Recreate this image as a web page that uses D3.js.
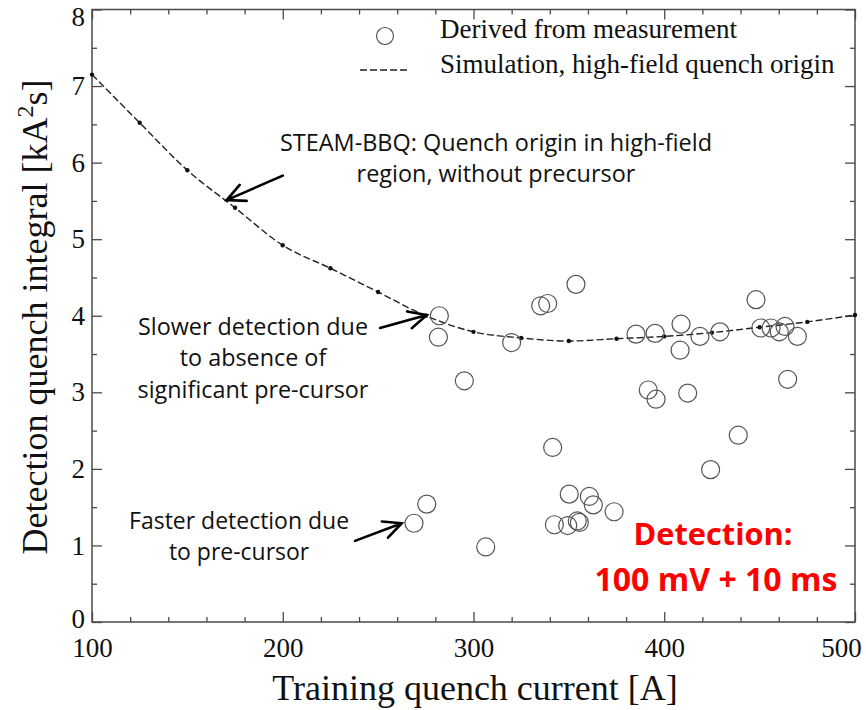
<!DOCTYPE html>
<html><head><meta charset="utf-8">
<script src="https://cdn.jsdelivr.net/npm/d3@7/dist/d3.min.js"></script>
<style>body{margin:0;background:#fff}svg{display:block}</style>
</head><body>
<svg id="c" width="866" height="710"></svg>
<script>
// ---- data ----
const simX = [100,125,150,175,200,225,250,275,300,325,350,375,400,425,450,475,500];
const simY = [7.15,6.52,5.90,5.41,4.92,4.62,4.31,4.00,3.79,3.71,3.67,3.70,3.73,3.78,3.85,3.92,4.01];
const measX = [282.1,281.6,295.2,320.0,335.2,338.9,353.7,341.5,385.2,395.2,408.8,408.3,391.6,395.7,412.3,418.7,429.2,448.1,450.6,456.0,460.3,463.3,469.8,464.7,438.8,424.3,275.5,268.8,306.4,350.2,360.7,362.8,373.7,342.4,349.4,354.4,355.5];
const measY = [4.00,3.72,3.15,3.65,4.13,4.16,4.41,2.28,3.76,3.77,3.89,3.55,3.03,2.91,2.99,3.73,3.79,4.21,3.84,3.84,3.79,3.86,3.73,3.17,2.44,1.99,1.54,1.29,0.98,1.67,1.64,1.53,1.44,1.27,1.26,1.32,1.30];
const xMajor = [100,200,300,400,500];
const yMajor = [0,1,2,3,4,5,6,7,8];
const legendLabels = ["Derived from measurement","Simulation, high-field quench origin"];

const svg = d3.select("#c");
const L=92, R=855, T=9.5, B=622;
const x = d3.scaleLinear().domain([100,500]).range([L,R]);
const y = d3.scaleLinear().domain([0,8]).range([B,T]);
const axisCol = "#4a4a4a";
const serif = "'Liberation Serif','Times New Roman',serif";

const xMinor = d3.range(100,501,20).filter(v=>v%100!==0);
const yMinor = d3.range(0,8.01,0.5).filter(v=>v%1!==0);

function styleAxis(g){
  g.select(".domain").remove();
  g.selectAll("line").attr("stroke",axisCol).attr("stroke-width",1.3);
  g.selectAll("text").attr("font-family",serif).attr("font-size",27).attr("fill","#111");
}
// bottom
svg.append("g").attr("transform",`translate(0,${B})`)
  .call(d3.axisBottom(x).tickValues(xMajor).tickSize(-10).tickPadding(16).tickFormat(d3.format("d")))
  .call(styleAxis)
  .call(g=>g.selectAll("text").filter(d=>d===500).attr("dx",-14));
svg.append("g").attr("transform",`translate(0,${B})`)
  .call(d3.axisBottom(x).tickValues(xMinor).tickSize(-5).tickFormat(""))
  .call(styleAxis);
// top
svg.append("g").attr("transform",`translate(0,${T})`)
  .call(d3.axisTop(x).tickValues(xMajor).tickSize(-10).tickFormat(""))
  .call(styleAxis);
svg.append("g").attr("transform",`translate(0,${T})`)
  .call(d3.axisTop(x).tickValues(xMinor).tickSize(-5).tickFormat(""))
  .call(styleAxis);
// left
svg.append("g").attr("transform",`translate(${L},0)`)
  .call(d3.axisLeft(y).tickValues(yMajor).tickSize(-10).tickPadding(7).tickFormat(d3.format("d")))
  .call(styleAxis)
  .call(g=>g.selectAll("text").filter(d=>d===8).attr("dy","0.6em"))
  .call(g=>g.selectAll("text").filter(d=>d===0).attr("dy","0.2em"));
svg.append("g").attr("transform",`translate(${L},0)`)
  .call(d3.axisLeft(y).tickValues(yMinor).tickSize(-5).tickFormat(""))
  .call(styleAxis);
// right
svg.append("g").attr("transform",`translate(${R},0)`)
  .call(d3.axisRight(y).tickValues(yMajor).tickSize(-10).tickFormat(""))
  .call(styleAxis);
svg.append("g").attr("transform",`translate(${R},0)`)
  .call(d3.axisRight(y).tickValues(yMinor).tickSize(-5).tickFormat(""))
  .call(styleAxis);
// frame
svg.append("rect").attr("x",L).attr("y",T).attr("width",R-L).attr("height",B-T)
  .attr("fill","none").attr("stroke",axisCol).attr("stroke-width",1.5);

// simulation line
const simData = simX.map((v,i)=>({x:v,y:simY[i]}));
svg.append("path").datum(simData)
  .attr("d",d3.line().x(d=>x(d.x)).y(d=>y(d.y)).curve(d3.curveMonotoneX))
  .attr("fill","none").attr("stroke","#222").attr("stroke-width",1.4).attr("stroke-dasharray","7,3");
svg.append("g").selectAll("circle").data(simData).join("circle")
  .attr("cx",d=>x(d.x)).attr("cy",d=>y(d.y)).attr("r",2.2).attr("fill","#111");

// measurement circles
const measData = measX.map((v,i)=>({x:v,y:measY[i]}));
svg.append("g").selectAll("circle").data(measData).join("circle")
  .attr("cx",d=>x(d.x)).attr("cy",d=>y(d.y)).attr("r",9)
  .attr("fill","none").attr("stroke","#555").attr("stroke-width",1.2);

// legend
svg.append("circle").attr("cx",385).attr("cy",36).attr("r",8.5).attr("fill","none").attr("stroke","#555").attr("stroke-width",1.2);
svg.append("line").attr("x1",360).attr("x2",410).attr("y1",70).attr("y2",70)
  .attr("stroke","#222").attr("stroke-width",1.4).attr("stroke-dasharray","7,3");
svg.append("text").attr("x",440).attr("y",38).text(legendLabels[0])
  .attr("font-family",serif).attr("font-size",27).attr("fill","#111");
svg.append("text").attr("x",440).attr("y",73).text(legendLabels[1])
  .attr("font-family",serif).attr("font-size",27).attr("fill","#111");

// axis titles
svg.append("text").attr("x",475).attr("y",700).attr("text-anchor","middle")
  .attr("font-family",serif).attr("font-size",36).attr("fill","#111").text("Training quench current [A]");
const yl = svg.append("text").attr("transform","translate(47,317) rotate(-90)").attr("text-anchor","middle")
  .attr("font-family",serif).attr("font-size",36).attr("fill","#111");
yl.append("tspan").text("Detection quench integral [kA");
yl.append("tspan").attr("font-size",24).attr("dy",-14).text("2");
yl.append("tspan").attr("dy",14).text("s]");

// annotations (font size fitted so the first line matches the reference width)
const sans = "'Open Sans',Lato,sans-serif";
function annot(lines, cx, baselines, targetW, opts={}){
  const nodes = lines.map((t,i)=> svg.append("text").attr("x",x(cx)).attr("y",y(baselines[i])).attr("text-anchor","middle")
      .attr("font-family",sans).attr("font-size",20)
      .attr("font-weight",opts.bold?"bold":"normal").attr("fill",opts.color||"#111").text(t));
  const w = nodes[0].node().getComputedTextLength();
  const fs = 20*targetW/w;
  nodes.forEach(n=>n.attr("font-size",fs.toFixed(2)));
}
annot(["STEAM-BBQ: Quench origin in high-field","region, without precursor"],311.8,[6.15,5.75],432);
annot(["Slower detection due","to absence of","significant pre-cursor"],184.4,[3.75,3.34,2.93],230);
annot(["Faster detection due","to pre-cursor"],177.1,[1.21,0.81],220);
annot(["Detection:"],425.6,[1.01],159,{bold:true,color:"#ff0000"});
annot(["100 mV + 10 ms"],427.1,[0.40],243,{bold:true,color:"#ff0000"});

function arrow(x0,y0,x1,y1){
  const px0=x(x0),py0=y(y0),px1=x(x1),py1=y(y1);
  const a=Math.atan2(py1-py0,px1-px0), len=20, sp=0.45;
  const w1=[px1-len*Math.cos(a-sp),py1-len*Math.sin(a-sp)];
  const w2=[px1-len*Math.cos(a+sp),py1-len*Math.sin(a+sp)];
  svg.append("path").attr("d",`M${px0},${py0}L${px1},${py1}M${w1[0]},${w1[1]}L${px1},${py1}L${w2[0]},${w2[1]}`)
    .attr("fill","none").attr("stroke","#000").attr("stroke-width",2.6).attr("stroke-linecap","round");
}
arrow(200,5.83,170.6,5.51);
arrow(251,3.84,275.5,4.01);
arrow(237.9,1.06,262.4,1.29);
</script>
</body></html>
